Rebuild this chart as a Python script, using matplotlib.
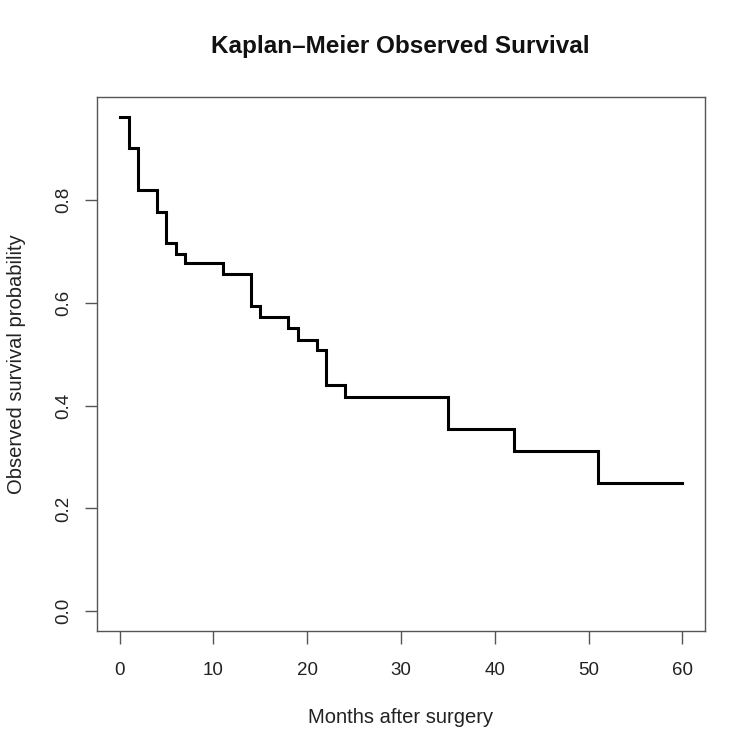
import matplotlib
matplotlib.use("Agg")
import matplotlib.pyplot as plt

plt.rcParams['font.family'] = ['Liberation Sans', 'DejaVu Sans']

months = [0, 1, 2, 4, 5, 6, 7, 11, 14, 15, 18, 19, 21, 22, 24, 35, 42, 51, 60]
survival = [0.962, 0.901, 0.819, 0.777, 0.717, 0.695, 0.677, 0.656, 0.594, 0.573,
            0.552, 0.528, 0.508, 0.440, 0.416, 0.354, 0.311, 0.249, 0.249]
x_ticks = [0, 10, 20, 30, 40, 50, 60]
y_ticks = [0.0, 0.2, 0.4, 0.6, 0.8]
y_tick_labels = ["0.0", "0.2", "0.4", "0.6", "0.8"]

fig = plt.figure(figsize=(7.5, 7.48), dpi=100)
ax = fig.add_axes([97/750, 1-631/748, (705-97)/750, (631-97)/748])

ax.step(months, survival, where='post', color='black', linewidth=2.2, solid_joinstyle='miter')

xr = 60 - 0
ax.set_xlim(0 - 0.04*xr, 60 + 0.04*xr)
ymax = max(survival)
ax.set_ylim(0 - 0.04*ymax, ymax + 0.04*ymax)

ax.set_xticks(x_ticks)
ax.set_xticklabels([str(v) for v in x_ticks])
ax.set_yticks(y_ticks)
ax.set_yticklabels(y_tick_labels, rotation=90, va='center')

frame_col = '#555555'
for s in ax.spines.values():
    s.set_color(frame_col)
    s.set_linewidth(1.0)
ax.tick_params(direction='out', length=9, width=1.0, color=frame_col,
               labelsize=13.5, labelcolor='#222222')
ax.tick_params(axis='x', pad=13)
ax.tick_params(axis='y', pad=9)

ax.set_xlabel("Months after surgery", fontsize=14.5, color='#222222', labelpad=21)
ax.set_ylabel("Observed survival probability", fontsize=14.5, color='#222222', labelpad=21)
fig.text(400/750, 1-46/748, "Kaplan\u2013Meier Observed Survival", ha='center', va='center',
         fontsize=17.5, fontweight='bold', color='#111111')

fig.savefig("out.png", dpi=100, facecolor='white')
